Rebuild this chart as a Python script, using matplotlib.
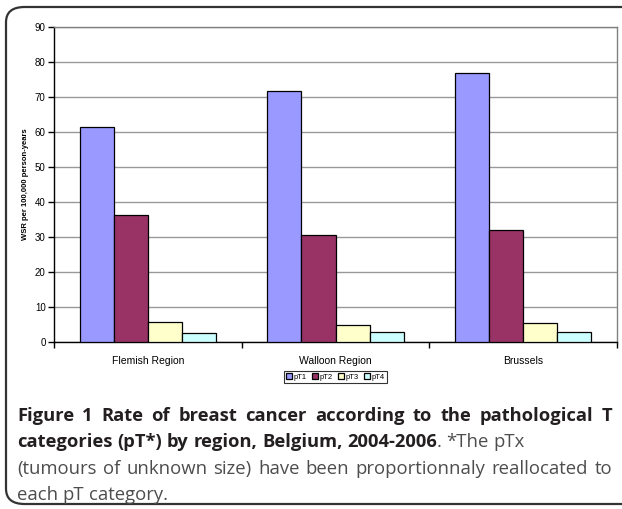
import matplotlib
matplotlib.use("Agg")
from matplotlib import pyplot as plt
from matplotlib.patches import FancyBboxPatch
import numpy as np

regions = ["Flemish Region", "Walloon Region", "Brussels"]
series = ["pT1", "pT2", "pT3", "pT4"]
pT1 = [61.5, 71.8, 77.0]
pT2 = [36.2, 30.5, 32.1]
pT3 = [5.7, 4.9, 5.5]
pT4 = [2.6, 3.0, 2.8]
colors = ["#9999FF", "#993366", "#FFFFCC", "#CCFFFF"]

plt.rcParams["font.family"] = ["Liberation Sans", "DejaVu Sans"]

W, H = 622, 509
fig = plt.figure(figsize=(W / 100, H / 100), dpi=100)

# rounded frame round the figure + caption
frame = FancyBboxPatch((6 / W, 5 / H), 1.2, 1 - 12 / H,
                       boxstyle="round,pad=0,rounding_size=0.03",
                       transform=fig.transFigure, fill=False,
                       edgecolor="#333333", linewidth=1.6, clip_on=False)
fig.patches.append(frame)

ax = fig.add_axes([54 / W, 1 - 342 / H, (617 - 54) / W, (342 - 27) / H])

x = np.arange(len(regions))
w = 1 / 5.5
for i, (vals, c, name) in enumerate(zip([pT1, pT2, pT3, pT4], colors, series)):
    ax.bar(x + (i - 1.5) * w, vals, w, color=c, edgecolor="black",
           linewidth=0.9, label=name, zorder=3)

ax.set_xlim(-0.5, 2.5)
ax.set_ylim(0, 90)
ax.set_yticks(range(0, 91, 10))
ax.yaxis.grid(True, color="#999999", linewidth=1.0, zorder=0)
ax.set_xticks(x)
ax.set_xticklabels(regions, fontsize=7.5)
ax.set_xticks([-0.5, 0.5, 1.5, 2.5], minor=True)
ax.tick_params(axis="x", which="major", length=0, pad=10)
ax.tick_params(axis="x", which="minor", length=4, width=1, direction="out")
ax.tick_params(axis="y", length=4, width=1, labelsize=7, pad=2)
for s in ["top", "right"]:
    ax.spines[s].set_color("#808080")
    ax.spines[s].set_linewidth(1)
for s in ["left", "bottom"]:
    ax.spines[s].set_color("black")
    ax.spines[s].set_linewidth(1)
ax.set_ylabel("WSR per 100,000 person-years", fontsize=5.5,
              fontweight="bold", labelpad=4)

leg = ax.legend(loc="center", bbox_to_anchor=(0.5, -35 / 315), ncol=4,
                fontsize=5.5, frameon=True, fancybox=False,
                handlelength=0.8, handleheight=0.8, handletextpad=0.2,
                columnspacing=0.7, borderpad=0.3, borderaxespad=0)
leg.get_frame().set_edgecolor("black")
leg.get_frame().set_linewidth(0.8)

# caption, set word by word so lines can be justified
renderer = fig.canvas.get_renderer()
cap_font = ["Open Sans", "DejaVu Sans"]
size = {True: 13.0, False: 13.0}
bold_col = "#231f20"
norm_col = "#4d4d4d"


def seg_width(s, bold, fs=None):
    t = fig.text(0, 0, s, fontsize=fs or size[bold], family=cap_font,
                 fontweight="bold" if bold else "normal")
    wd = t.get_window_extent(renderer).width
    t.remove()
    return wd


def space(bold, fs=None):
    return seg_width("a a", bold, fs) - seg_width("aa", bold, fs)


def words_of(s, bold):
    return [[(t, bold)] for t in s.split()]


line1 = words_of("Figure 1 Rate of breast cancer according to the pathological T", True)
line2 = words_of("categories (pT*) by region, Belgium,", True) + \
    [[("2004-2006", True), (".", False)]] + words_of("*The pTx", False)
line3 = words_of("(tumours of unknown size) have been proportionnaly reallocated to", False)
line4 = words_of("each pT category.", False)


def natural_width(words, bold, fs):
    return sum(seg_width(s, b, fs) for wd in words for s, b in wd) + \
        space(bold, fs) * (len(words) - 1)


# caption sizes: lines 1 and 3 are justified with a little stretch
size[True] = 13 * 555 / natural_width(line1, True, 13)
size[False] = 13 * 580 / natural_width(line3, False, 13)


def caption_line(words, y, justify, x0=17, x1=612):
    widths = [sum(seg_width(s, b) for s, b in wd) for wd in words]
    if justify and len(words) > 1:
        gap = (x1 - x0 - sum(widths)) / (len(words) - 1)
    else:
        gap = space(False)
    xp = x0
    for wd, wdt in zip(words, widths):
        xs = xp
        for s, b in wd:
            fig.text(xs / W, 1 - y / H, s, fontsize=size[b], family=cap_font,
                     fontweight="bold" if b else "normal",
                     color=bold_col if b else norm_col, va="baseline")
            xs += seg_width(s, b)
        xp += wdt + gap


caption_line(line1, 421, True)
caption_line(line2, 447, False)
caption_line(line3, 474, True)
caption_line(line4, 500, False)

fig.savefig("out.png", dpi=100)
